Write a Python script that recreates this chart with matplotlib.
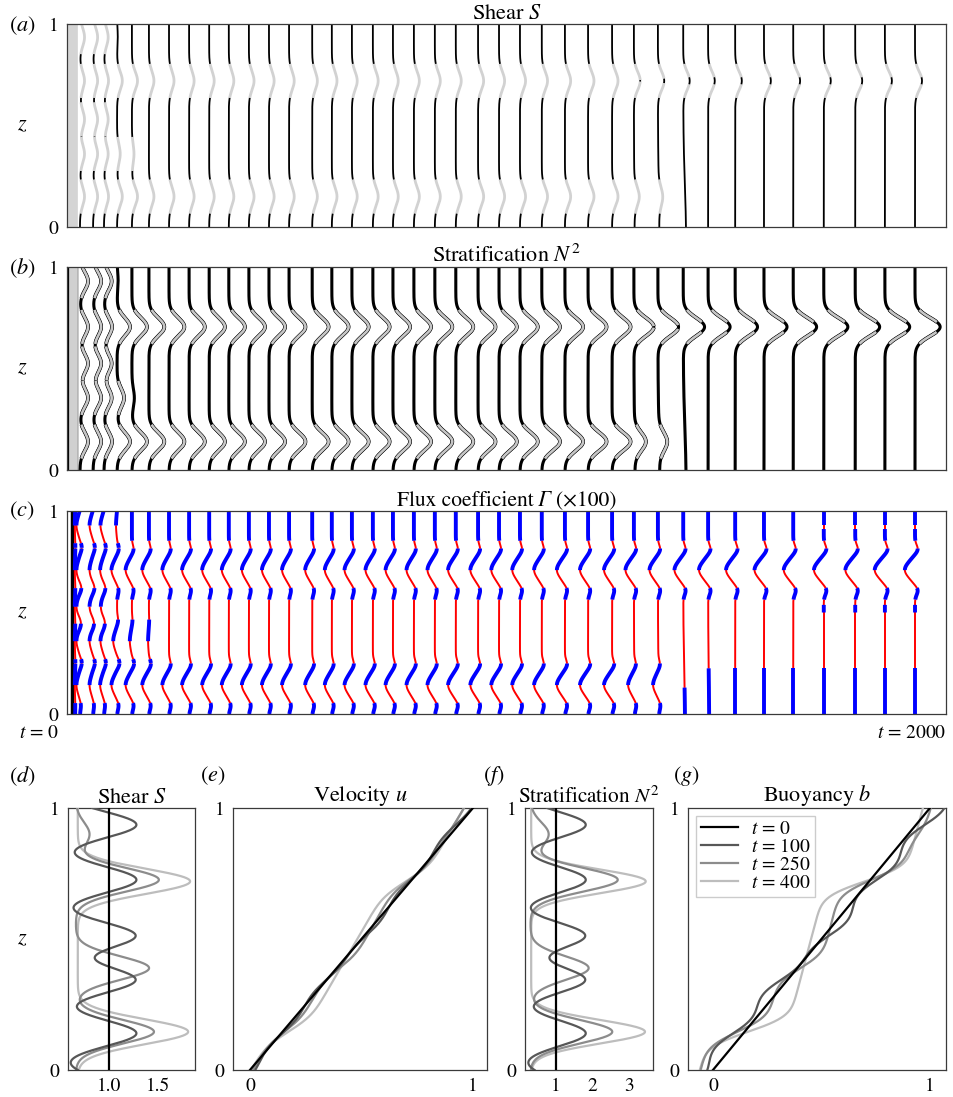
import numpy as np
import matplotlib.pyplot as plt

plt.rcParams['font.family'] = 'STIXGeneral'
plt.rcParams['mathtext.fontset'] = 'stix'
plt.rcParams['font.size'] = 14

W, H = 954, 1097

# ---------------- waterfall panels (a)-(c) ----------------
# times of the plotted profiles
t_prof = [0, 16, 46, 71, 101, 135, 174, 220, 266, 312, 357, 403, 449, 495, 548,
          593, 639, 687, 733, 781, 829, 877, 928, 976, 1024, 1074, 1127, 1180,
          1235, 1285, 1340, 1398, 1455, 1517, 1583, 1650, 1720, 1792, 1860, 1929]
NP = len(t_prof)

# interface heights: top, upper, middle, middle-2, lower
zc_S = [0.935, 0.72, 0.53, 0.36, 0.15]
zc_N = [0.93, 0.705, 0.525, 0.355, 0.14]
zc_G = [0.93, 0.71, 0.53, 0.36, 0.143]

# shear bump amplitudes per profile
S_top = [0, 0.65, 0.65, 0.6, 0.1, 0]
S_mid = [0, 0.65, 0.65, 0.6]
S_mid2 = [0, 0.65, 0.65, 0.6, 0.45, 0.3]
S_upper = [0, 0.65, 0.65, 0.65, 0.75, 0.8,
           0.72, 0.72, 0.72, 0.72, 0.72, 0.74, 0.74, 0.74, 0.74, 0.74, 0.76, 0.76,
           0.76, 0.78, 0.78, 0.78, 0.8, 0.8, 0.8, 0.82, 0.82, 0.85, 0.85,
           0.9, 0.9, 0.92, 0.95, 0.95, 0.98, 0.98, 1.0, 1.0, 1.0, 1.0]
S_lower = [0, 0.65, 0.65, 0.65, 0.75, 0.8,
           0.72, 0.72, 0.72, 0.72, 0.72, 0.74, 0.74, 0.74, 0.74, 0.74, 0.76, 0.76,
           0.76, 0.78, 0.78, 0.78, 0.8, 0.8, 0.8, 0.82, 0.82, 0.85, 0.85,
           0.7, 0.55]
S_lean = [0] * 29 + [0.1, 0.2, 0.4]
S_peakblack = [0] * 29 + [0.004, 0.012] + [0.018] * 9

# stratification bump amplitudes per profile
N_top = [0, 1.15, 1.15, 1.1, 0.15, 0]
N_mid = [0, 1.15, 1.15, 1.1]
N_mid2 = [0, 1.15, 1.15, 1.1, 1.0, 0.35]
N_upper = [0, 1.15, 1.15, 1.15, 1.85, 2.15,
           2.2, 2.2, 2.25, 2.25, 2.3, 2.3, 2.3, 2.35, 2.35, 2.4, 2.4, 2.4,
           2.45, 2.45, 2.5, 2.5, 2.5, 2.55, 2.55, 2.6, 2.6, 2.65, 2.65,
           2.85, 2.95, 3.05, 3.15, 3.2, 3.3, 3.35, 3.45, 3.5, 3.55, 3.6]
N_lower = [0, 1.15, 1.15, 1.15, 1.85, 2.15,
           2.2, 2.2, 2.25, 2.25, 2.3, 2.3, 2.3, 2.35, 2.35, 2.4, 2.4, 2.4,
           2.45, 2.45, 2.5, 2.5, 2.5, 2.55, 2.55, 2.6, 2.6, 2.65, 2.65,
           1.6, 1.15]
N_lean = [0] * 29 + [0.15, 0.25, 0.4]
N_peakblack = [0] * 29 + [0.004, 0.01] + [0.025] * 9

# flux coefficient dip depths per profile
G_top = [0.05, 0.5, 0.5, 0.5, 0.15]
G_mid = [0.05, 0.5, 0.5, 0.45]
G_mid2 = [0.05, 0.5, 0.5, 0.5, 0.55, 0.3, 0.12]
G_upper = [0.05, 0.5, 0.5, 0.55, 0.8, 0.9,
           0.95, 0.95, 1.0, 1.0, 1.0, 1.0, 1.0, 1.0, 1.0, 1.0, 1.05, 1.05,
           1.05, 1.05, 1.05, 1.1, 1.1, 1.1, 1.1, 1.1, 1.15, 1.15, 1.15,
           1.2, 1.2, 1.25, 1.3, 1.3, 1.35, 1.35, 1.4, 1.4, 1.45, 1.45]
G_lower = [0.05, 0.5, 0.5, 0.55, 0.8, 0.9,
           0.95, 0.95, 1.0, 1.0, 1.0, 1.0, 1.0, 1.0, 1.0, 1.0, 1.05, 1.05,
           1.05, 1.05, 1.05, 1.1, 1.1, 1.1, 1.1, 1.1, 1.15, 1.15, 1.15,
           0.9, 0.8]
G_lean = [0] * 29 + [0.1, 0.15, 0.25, 0.15]
G_floor = [0] * 31 + [0.13] + [0.225] * 8
G_extra_from = 36
G_red_top = (0.91, 0.93)
G_blue_mid = (0.50, 0.537)

# ---------------- profile panels (d)-(g) ----------------
t_lab = [0, 100, 250, 400]
line_cols = ['black', '#575757', '#8c8c8c', '#bdbdbd']

S_base = [1.0, 0.47, 0.66, 0.68]
S_cent = [[], [0.936, 0.726, 0.513, 0.344, 0.14, -0.075],
          [0.9, 0.726, 0.389, 0.146], [0.72, 0.146]]
S_amp = [[], [0.81, 0.81, 0.8, 0.8, 0.81, 0.6],
         [0.14, 0.85, 0.75, 0.8], [1.15, 1.13]]
S_sig = [0.05, 0.05, 0.045, 0.048]

N_base = [1.0, -0.08, 0.3, 0.32]
N_cent = [[], [0.936, 0.726, 0.513, 0.344, 0.14, -0.075],
          [0.9, 0.726, 0.389, 0.146], [0.72, 0.146]]
N_amp = [[], [1.9, 1.9, 1.88, 1.88, 1.9, 1.4],
         [0.5, 2.4, 1.6, 2.25], [3.15, 3.13]]
N_sig = [0.05, 0.05, 0.045, 0.045]

# -------------------------------------------------------------
z = np.linspace(0, 1, 801)
SCALE = 16.0
SIG = 0.045


def pad(a):
    return np.array(list(a) + [0] * (NP - len(a)), dtype=float)


def gauss(c, s):
    return np.exp(-0.5 * ((z - c) / s) ** 2)


def runs(mask):
    d = np.diff(np.r_[0, mask.astype(int), 0])
    return zip(np.where(d == 1)[0], np.where(d == -1)[0])


def seg(ax, x, i0, i1, **kw):
    i0 = max(i0 - 1, 0)
    i1 = min(i1 + 1, len(z))
    ax.plot(x[i0:i1], z[i0:i1], solid_capstyle='butt', **kw)


def rect(l, r, t, b):
    return [l / W, 1 - b / H, (r - l) / W, (b - t) / H]


def style(ax):
    for s in ax.spines.values():
        s.set_color('#3a3a3a')
        s.set_linewidth(0.9)
    ax.tick_params(length=0, pad=6)


fig = plt.figure(figsize=(W / 100, H / 100), dpi=100)
axa = fig.add_axes(rect(67, 946, 24, 227))
axb = fig.add_axes(rect(67, 946, 267, 470))
axc = fig.add_axes(rect(67, 946, 511, 714))


def grey_black(ax, fams, zc, lean, peakblack, thr, outline):
    for i, t in enumerate(t_prof):
        if i == 0:
            if outline:
                ax.plot([t, t], [0, 1], color='k', lw=7.5, solid_capstyle='butt')
                ax.plot([t, t], [0, 1], color='#d0d0d0', lw=6.3, solid_capstyle='butt')
            else:
                ax.plot([t, t], [0, 1], color='#d4d4d4', lw=7, solid_capstyle='butt')
            continue
        dev = lean[i] * gauss(-0.05, 0.25)
        grey = np.zeros(z.size, bool)
        for f, c in zip(fams, zc):
            dev = dev + f[i] * gauss(c, SIG)
            if f[i] >= thr:
                grey |= np.abs(z - c) < 1.85 * SIG
        grey &= np.abs(z - zc[1]) >= peakblack[i]
        x = t + SCALE * dev
        if outline:
            ax.plot(x, z, color='k', lw=2.2, solid_capstyle='butt')
            for i0, i1 in runs(grey):
                seg(ax, x, i0, i1, color='k', lw=2.7)
                seg(ax, x, i0, i1, color='#c6c6c6', lw=1.9)
        else:
            for i0, i1 in runs(~grey):
                seg(ax, x, i0, i1, color='k', lw=1.3)
            for i0, i1 in runs(grey):
                seg(ax, x, i0, i1, color='#d2d2d2', lw=2.0)


famS = [pad(S_top), pad(S_upper), pad(S_mid), pad(S_mid2), pad(S_lower)]
famN = [pad(N_top), pad(N_upper), pad(N_mid), pad(N_mid2), pad(N_lower)]
grey_black(axa, famS, zc_S, pad(S_lean), pad(S_peakblack), 0.2, False)
grey_black(axb, famN, zc_N, pad(N_lean), pad(N_peakblack), 0.4, True)

# panel (c): flux coefficient
famG = [pad(G_top), pad(G_upper), pad(G_mid), pad(G_mid2), pad(G_lower)]
GL = pad(G_lean)
GF = pad(G_floor)
axc.plot([-3, -3], [0, 1], color='k', lw=2.5, solid_capstyle='butt')
for i, t in enumerate(t_prof):
    dev = GL[i] * gauss(-0.05, 0.25)
    act = []
    for f, c in zip(famG, zc_G):
        dev = dev - f[i] * (gauss(c, 0.04)
                            - 0.3 * (gauss(c + 0.1, 0.022) + gauss(c - 0.1, 0.022)))
        if f[i] > 0:
            act.append(c)
    x = t + SCALE * dev
    if i == 0:
        x = x + 5
    act = np.array(act)
    near = act[np.argmin(np.abs(z[:, None] - act[None, :]), axis=1)]
    d = z - near
    blue = ((d >= 0) & (d < 0.105)) | ((d >= -0.145) & (d < -0.09))
    redz = ((d >= -0.09) & (d < 0)) | ((d >= 0.105) & (d < 0.145))
    far = ~(blue | redz)
    blue |= far & ((z > act.max()) | (z < GF[i]))
    if i >= G_extra_from:
        blue &= ~((z > G_red_top[0]) & (z < G_red_top[1]))
        blue |= (z > G_blue_mid[0]) & (z < G_blue_mid[1])
    for i0, i1 in runs(~blue):
        seg(axc, x, i0, i1, color='#ff0000', lw=1.4)
    for i0, i1 in runs(blue):
        seg(axc, x, i0, i1, color='#0000ff', lw=2.8)

for ax in (axa, axb, axc):
    ax.set_xlim(-13.7, 2000)
    ax.set_ylim(0, 1)
    ax.set_xticks([])
    ax.set_yticks([0, 1])
    style(ax)
axa.set_title('Shear $S$', pad=2, fontsize=16)
axb.set_title('Stratification $N^2$', pad=2, fontsize=16)

# title of (c) with an italic Gamma, built from three pieces
renderer = fig.canvas.get_renderer()
pieces = [('Flux coefficient', 'normal'), ('Γ', 'italic'), ('(×100)', 'normal')]
tx = [fig.text(0, 1 - 506 / H, s, style=st, va='baseline', fontsize=15.5)
      for s, st in pieces]
widths = [t.get_window_extent(renderer).width for t in tx]
gap = 4.5
xpos = (67 + 946) / 2 - (sum(widths) + 2 * gap) / 2
for t, w in zip(tx, widths):
    t.set_x(xpos / W)
    xpos += w + gap

fig.text(39 / W, 1 - 733 / H, '$t$ = 0', ha='center', va='center')
fig.text(946 / W, 1 - 733 / H, '$t$ = 2000', ha='right', va='center')

# ---------------- bottom panels ----------------
axd = fig.add_axes(rect(68, 195, 808, 1070))
axe = fig.add_axes(rect(233, 487, 808, 1070))
axf = fig.add_axes(rect(525, 653, 808, 1070))
axg = fig.add_axes(rect(688, 946, 808, 1070))

dz = z[1] - z[0]
for k in range(len(t_lab)):
    S = S_base[k] + sum(a * gauss(c, S_sig[k]) for a, c in zip(S_amp[k], S_cent[k])) * np.ones_like(z)
    N2 = N_base[k] + sum(a * gauss(c, N_sig[k]) for a, c in zip(N_amp[k], N_cent[k])) * np.ones_like(z)
    U = np.r_[0, np.cumsum(0.5 * (S[1:] + S[:-1]) * dz)]
    B = np.r_[0, np.cumsum(0.5 * (N2[1:] + N2[:-1]) * dz)]
    u = U - U.mean() + 0.5
    b = B - B.mean() + 0.5
    zo = 5 if k == 0 else 3 - k * 0.1
    kw = dict(color=line_cols[k], lw=1.6, zorder=zo)
    axd.plot(S, z, **kw)
    axe.plot(u, z, **kw)
    axf.plot(N2, z, **kw)
    axg.plot(b, z, label='$t$ = %d' % t_lab[k], **kw)

axd.set_xlim(0.58, 1.88)
axd.set_xticks([1.0, 1.5])
axd.set_xticklabels(['1.0', '1.5'])
axe.set_xlim(-0.076, 1.063)
axe.set_xticks([0, 1])
axf.set_xlim(0.15, 3.67)
axf.set_xticks([1, 2, 3])
axg.set_xlim(-0.115, 1.074)
axg.set_xticks([0, 1])
for ax, ttl in zip((axd, axe, axf, axg),
                   ['Shear $S$', 'Velocity $u$', 'Stratification $N^2$', 'Buoyancy $b$']):
    ax.set_ylim(0, 1)
    ax.set_yticks([0, 1])
    if ax is axf:
        ax.set_title(ttl, pad=3, fontsize=15.3)
    else:
        ax.set_title(ttl, pad=2, fontsize=16)
    style(ax)

leg = axg.legend(loc='upper left', handlelength=1.9, labelspacing=0.0,
                 borderpad=0.25, handletextpad=0.7, fancybox=False, framealpha=1,
                 fontsize=14, borderaxespad=0.4)
leg.get_frame().set_edgecolor('#cccccc')

# z labels and panel letters
for yc in (125, 368, 612, 939):
    fig.text(22 / W, 1 - yc / H, '$z$', ha='center', va='center', fontsize=16)
for lab, xc, yc in [('a', 22, 26), ('b', 22, 268), ('c', 22, 511),
                    ('d', 22, 776), ('e', 213, 776), ('f', 494, 776), ('g', 686, 776)]:
    fig.text(xc / W, 1 - yc / H, '($%s$)' % lab, ha='center', va='center', fontsize=16)

fig.savefig('out.png', dpi=100)
